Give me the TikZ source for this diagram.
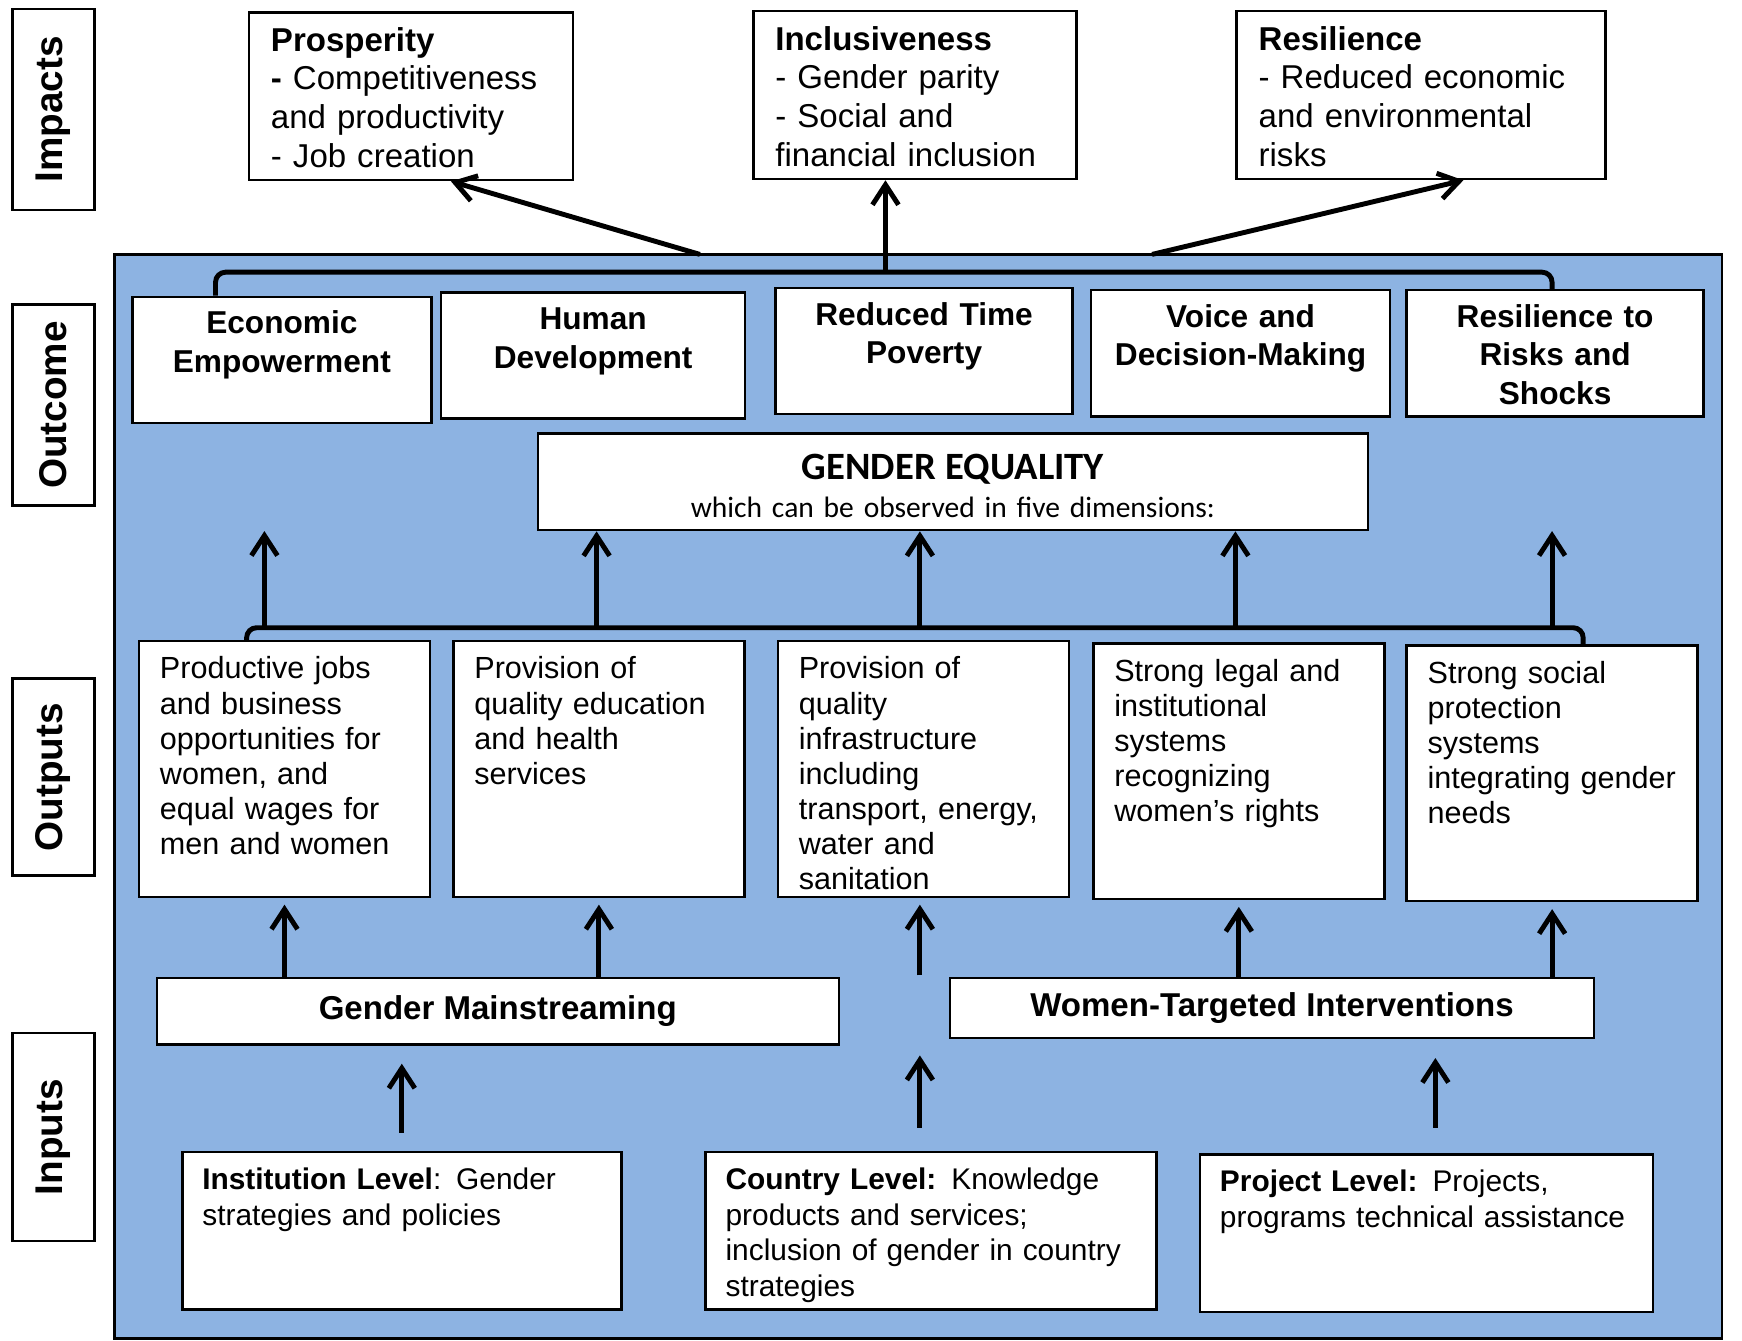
\documentclass[tikz,border=0pt]{standalone}
\usepackage{fontspec}
\setmainfont{Liberation Sans}
\newfontfamily\calibri{Carlito}
\usetikzlibrary{arrows.meta,calc}
\definecolor{panelblue}{RGB}{141,179,226}
\tikzset{
	box/.style={draw=black, line width=0.7pt, fill=white, inner sep=0pt, anchor=north west},
	sidebox/.style={draw=black, line width=0.7pt, fill=white, inner sep=0pt, rotate=90, minimum height=8.2mm, font=\fontsize{11}{13}\selectfont\bfseries},
	impactbox/.style={box, align=left, inner xsep=2.2mm, text height=3.89mm, text depth=12.89mm, font=\fontsize{9.4}{11}\selectfont},
	outcomebox/.style={box, align=center, text height=3.72mm, text depth=8.9mm, font=\fontsize{9}{11}\selectfont\bfseries},
	outputbox/.style={box, align=left, inner xsep=2.1mm, text width=24.9mm, text height=3.78mm, text depth=21.78mm, font=\fontsize{8.7}{10}\selectfont},
	strategybox/.style={box, align=center, font=\fontsize{9.4}{11}\selectfont\bfseries},
	inputbox/.style={box, align=left, inner xsep=2mm, text height=3.7mm, text depth=12.05mm, font=\fontsize{8.5}{10.2}\selectfont},
	arr/.style={line width=1.4pt, -{Straight Barb[length=2mm,width=2.6mm]}},
	busline/.style={line width=1.4pt, rounded corners=1mm}
}

\begin{document}
\begin{tikzpicture}[x=0.1111mm, y=-0.1111mm]
			%%%%% START %%%%%
			\useasboundingbox (0,0) rectangle (1568,1207);
			
			\draw[line width=0.8pt, fill=panelblue] (103,229) rectangle (1550,1205);
			
			%%%%% LEVELS %%%%%
			\node[sidebox, minimum width=20.1mm] (impacts) at (48,98.5) {Impacts};
			\node[sidebox, minimum width=20.1mm] (outcome) at (48,364.5) {Outcome};
			\node[sidebox, minimum width=19.7mm] (outputs) at (48,699.5) {Outputs};
			\node[sidebox, minimum width=20.8mm] (inputs) at (48,1023.5) {Inputs};
			
			%%%%% IMPACTS %%%%%
			\node[impactbox, text width=28.0mm] (prosperity) at (223,10) {\textbf{Prosperity}\\\textbf{-} Competitiveness\\and productivity\\- Job creation};
			\node[impactbox, text width=27.9mm] (inclusiveness) at (677,9) {\textbf{Inclusiveness}\\- Gender parity\\- Social and\\financial inclusion};
			\node[impactbox, text width=32.5mm] (resilience) at (1112,9) {\textbf{Resilience}\\- Reduced economic\\and environmental\\risks};
			
			%%%%% OUTCOME %%%%%
			\node[outcomebox, text width=29.9mm] (econ) at (118,266) {Economic\\Empowerment};
			\node[outcomebox, text width=30.4mm] (human) at (396,262) {Human\\Development};
			\node[outcomebox, text width=29.7mm] (time) at (697,258) {Reduced Time\\Poverty};
			\node[outcomebox, text width=29.9mm] (voice) at (981,260) {Voice and\\Decision-Making};
			\node[outcomebox, text width=29.7mm] (risks) at (1265,260) {Resilience to\\Risks and\\Shocks};
			
			\node[box, align=center, text width=83mm, text height=4.56mm, text depth=5.11mm, font=\calibri\fontsize{8.4}{11}\selectfont] (equality) at (483,389) {{\fontsize{11}{12}\selectfont\bfseries GENDER EQUALITY}\\which can be observed in five dimensions:};
			
			%%%%% OUTPUTS %%%%%
			\node[outputbox] (jobs) at (124,576) {Productive jobs\\and business\\opportunities for\\women, and\\equal wages for\\men and women};
			\node[outputbox] (services) at (407,576) {Provision of\\quality education\\and health\\services};
			\node[outputbox] (infra) at (699,576) {Provision of\\quality\\infrastructure\\including\\transport, energy,\\water and\\sanitation};
			\node[outputbox] (legal) at (983,578) {Strong legal and\\institutional\\systems\\recognizing\\women's rights};
			\node[outputbox] (social) at (1265,580) {Strong social\\protection\\systems\\integrating gender\\needs};
			
			\node[strategybox, minimum width=68.2mm, minimum height=6.67mm] (mainstream) at (140,879) {Gender Mainstreaming};
			\node[strategybox, minimum width=64.4mm, minimum height=6.0mm] (targeted) at (854,879) {Women-Targeted Interventions};
			
			%%%%% INPUTS %%%%%
			\node[inputbox, text width=39.9mm] (institution) at (163,1036) {\textbf{Institution Level}: Gender\\strategies and policies};
			\node[inputbox, text width=41.1mm] (country) at (634,1036) {\textbf{Country Level:} Knowledge\\products and services;\\inclusion of gender in country\\strategies};
			\node[inputbox, text width=41.3mm] (project) at (1079,1038) {\textbf{Project Level:} Projects,\\programs technical assistance};
			
			%%%%% CONNECTORS %%%%%
			\coordinate (busL) at (194,245);
			\coordinate (busM) at (797,245);
			\coordinate (busR) at (1397,245);
			\coordinate (footL) at (630,229);
			\coordinate (footR) at (1037,229);
			\draw[busline] (econ.north -| busL) -- (busL) -- (busR) -- (risks.north -| busR);
			\draw[arr] (busM) -- (inclusiveness.south -| busM);
			\draw[arr] (footL) -- ($(prosperity.south)+(36,0)$);
			\draw[arr] (footR) -- ($(resilience.south)+(38,0)$);
			
			\coordinate (obusL) at (222,565);
			\coordinate (obusR) at (1425,565);
			\coordinate (upA) at (238,565);
			\coordinate (upB) at (537,565);
			\coordinate (upC) at (828,565);
			\coordinate (upD) at (1112,565);
			\coordinate (upE) at (1397,565);
			\coordinate (tipA) at (238,478);
			\coordinate (tipE) at (1397,478);
			\draw[busline] (jobs.north -| obusL) -- (obusL) -- (obusR) -- (social.north -| obusR);
			\draw[arr] (upA) -- (tipA);
			\draw[arr] (upB) -- (equality.south -| upB);
			\draw[arr] (upC) -- (equality.south -| upC);
			\draw[arr] (upD) -- (equality.south -| upD);
			\draw[arr] (upE) -- (tipE);
			
			\coordinate (gapC) at (828,878);
			\draw[arr, shorten >=0.67mm] (mainstream.north -| jobs.south) -- (jobs.south);
			\draw[arr, shorten >=0.67mm] (mainstream.north -| services.south) -- (services.south);
			\draw[arr, shorten >=0.67mm] (gapC) -- (infra.south -| gapC);
			\draw[arr, shorten >=0.67mm] (targeted.north -| legal.south) -- (legal.south);
			\draw[arr, shorten >=0.67mm] (targeted.north -| social.south) -- (social.south);
			
			\coordinate (gapB) at (828,950);
			\coordinate (upP) at (1292,1015);
			\draw[arr, shorten <=1.8mm, shorten >=1.8mm] (institution.north) -- (institution.north |- mainstream.south);
			\draw[arr, shorten <=2.33mm] (country.north -| gapB) -- (gapB);
			\draw[arr, shorten >=1.9mm] (upP) -- (targeted.south -| upP);
			
			%%%%% END %%%%%
\end{tikzpicture}
\end{document}
